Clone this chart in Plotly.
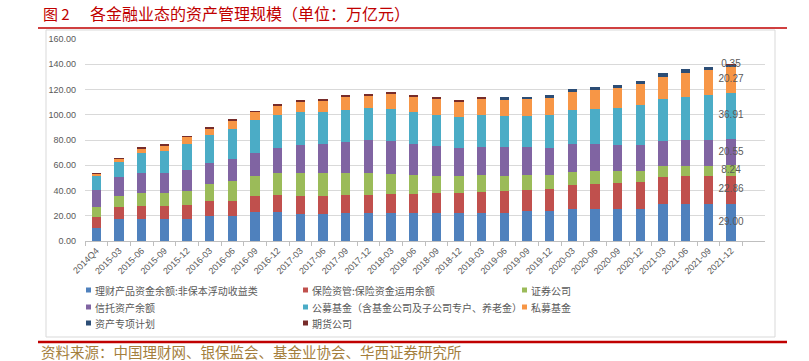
import plotly.graph_objects as go

categories = ["2014Q4", "2015-03", "2015-06", "2015-09", "2015-12", "2016-03", "2016-06", "2016-09",
              "2016-12", "2017-03", "2017-06", "2017-09", "2017-12", "2018-03", "2018-06", "2018-09",
              "2018-12", "2019-03", "2019-06", "2019-09", "2019-12", "2020-03", "2020-06", "2020-09",
              "2020-12", "2021-03", "2021-06", "2021-09", "2021-12"]

wmp = [10.0, 17.2, 17.2, 17.2, 17.2, 20.1, 20.1, 23.0, 23.0, 21.4, 21.4, 21.9, 21.9, 21.9, 21.9,
       21.9, 21.9, 22.2, 22.2, 23.5, 23.5, 25.3, 25.3, 25.3, 25.3, 29.0, 29.0, 29.0, 29.00]
insurance = [9.0, 9.5, 10.3, 10.3, 11.1, 11.6, 11.9, 12.9, 13.4, 14.2, 14.5, 14.8, 14.8, 15.3, 15.6,
             15.9, 16.4, 16.9, 17.1, 17.2, 17.4, 19.3, 19.8, 20.6, 21.4, 22.0, 22.5, 22.2, 22.86]
securities = [7.7, 9.2, 10.3, 10.8, 11.6, 13.4, 15.3, 15.6, 17.2, 18.5, 18.2, 17.4, 16.9, 15.9, 14.8,
              13.9, 13.2, 13.2, 12.4, 11.3, 11.1, 10.3, 10.6, 9.5, 8.7, 8.4, 7.9, 8.4, 8.24]
trust = [14.0, 14.5, 15.9, 15.8, 16.3, 16.7, 17.4, 18.2, 20.1, 21.9, 23.0, 24.3, 26.1, 25.8, 24.8,
         23.3, 22.4, 22.2, 22.5, 22.2, 21.7, 21.7, 21.1, 20.6, 20.4, 20.1, 20.6, 20.6, 20.55]
public_funds = [11.0, 11.9, 16.3, 17.2, 20.9, 22.2, 24.3, 25.9, 26.1, 25.9, 25.3, 25.6, 25.6, 25.7, 25.1,
                25.1, 24.6, 25.0, 24.5, 24.8, 25.8, 27.4, 27.8, 29.6, 31.7, 33.0, 34.3, 35.4, 36.91]
private_funds = [1.6, 2.9, 3.4, 4.5, 5.5, 5.2, 6.3, 6.6, 7.7, 8.7, 9.0, 10.3, 10.3, 12.4, 12.4,
                 12.9, 12.1, 13.5, 13.0, 13.5, 14.0, 14.0, 15.0, 15.9, 16.6, 17.7, 19.0, 19.5, 20.27]
special_plans = [None] * 18 + [2.1, 1.6, 1.9, 2.4, 2.1, 2.1, 2.9, 2.6, 2.7, 2.7, 2.0]
futures = [0.3, 0.3, 0.6, 0.4, 0.5, 0.6, 0.7, 0.7, 0.6, 0.5, 0.5, 0.6, 0.7, 0.3, 0.5,
           0.4, 0.5, 0.3] + [None] * 10 + [0.35]

series_names = ["理财产品资金余额:非保本浮动收益类", "保险资管:保险资金运用余额", "证券公司",
                "信托资产余额", "公募基金（含基金公司及子公司专户、养老金）", "私募基金",
                "资产专项计划", "期货公司"]
series_values = [wmp, insurance, securities, trust, public_funds, private_funds, special_plans, futures]
series_colors = ["#4F81BD", "#C0504D", "#9BBB59", "#8064A2", "#4BACC6", "#F79646", "#2C4D75", "#772C2A"]
label_last = [True, True, True, True, True, True, False, True]

title_prefix = "图 2"
title_text = "各金融业态的资产管理规模（单位：万亿元）"
source_text = "资料来源：中国理财网、银保监会、基金业协会、华西证券研究所"

W, H = 809, 361
L, R, T, B = 85, 765, 39, 241
PW, PH = R - L, B - T


def px(x):
    return (x - L) / PW


def py(y):
    return (B - y) / PH


fig = go.Figure()
for name, vals, col in zip(series_names, series_values, series_colors):
    fig.add_trace(go.Bar(x=categories, y=vals, name=name, marker_color=col,
                         marker_line_width=0, showlegend=False))

# data labels for last bar
cum = 0.0
lab_y, lab_t = [], []
for vals, show in zip(series_values, label_last):
    v = vals[-1] or 0
    if show:
        lab_y.append(cum + v / 2)
        lab_t.append(f"{v:.2f}")
    cum += v
fig.add_trace(go.Scatter(x=[categories[-1]] * len(lab_y), y=lab_y, text=lab_t, mode="text",
                         textfont=dict(size=10, color="#595959", family="Liberation Sans"),
                         showlegend=False, hoverinfo="skip", cliponaxis=False))

shapes = []
annotations = []
# frame
shapes.append(dict(type="rect", xref="paper", yref="paper", x0=px(46), x1=px(775), y0=py(30), y1=py(337),
                   line=dict(color="#D9D9D9", width=1), layer="below"))
# red rules
shapes.append(dict(type="line", xref="paper", yref="paper", x0=px(38), x1=px(787), y0=py(28), y1=py(28),
                   line=dict(color="#C00000", width=1.5)))
shapes.append(dict(type="line", xref="paper", yref="paper", x0=px(38), x1=px(787), y0=py(342), y1=py(342),
                   line=dict(color="#C00000", width=2.5)))

# legend (manual, Excel-like)
cols_x = [86, 303, 522]
rows_y = [290, 307, 323]
for k, (name, col) in enumerate(zip(series_names, series_colors)):
    r, c = divmod(k, 3)
    x0, y0 = cols_x[c], rows_y[r]
    shapes.append(dict(type="rect", xref="paper", yref="paper", x0=px(x0), x1=px(x0 + 5),
                       y0=py(y0 - 2.5), y1=py(y0 + 2.5), fillcolor=col, line=dict(width=0)))
    annotations.append(dict(xref="paper", yref="paper", x=px(x0 + 7), y=py(y0), text=name,
                            showarrow=False, xanchor="left", yanchor="middle",
                            font=dict(size=10, color="#595959", family="Noto Sans CJK SC")))

annotations.append(dict(xref="paper", yref="paper", x=px(41), y=py(13), text=title_prefix, showarrow=False,
                        xanchor="left", yanchor="middle",
                        font=dict(size=15, color="#C00000", family="Noto Sans CJK SC")))
annotations.append(dict(xref="paper", yref="paper", x=px(88), y=py(13), text=title_text, showarrow=False,
                        xanchor="left", yanchor="middle",
                        font=dict(size=16, color="#C00000", family="Noto Sans CJK SC")))
annotations.append(dict(xref="paper", yref="paper", x=px(39), y=py(351), text=source_text, showarrow=False,
                        xanchor="left", yanchor="middle",
                        font=dict(size=14.5, color="#A47E3C", family="Noto Sans CJK SC")))

fig.update_layout(
    width=W, height=H,
    margin=dict(l=L, r=W - R, t=T, b=H - B, pad=0),
    barmode="stack", bargap=0.59,
    paper_bgcolor="white", plot_bgcolor="white",
    font=dict(family="Liberation Sans", size=9, color="#595959"),
    shapes=shapes, annotations=annotations,
    showlegend=False,
)
fig.update_xaxes(type="category", tickangle=-45, tickson="boundaries", ticks="outside", ticklen=4,
                 tickcolor="#BFBFBF", showline=True, linecolor="#BFBFBF", linewidth=1,
                 showgrid=False, tickfont=dict(size=9, color="#595959"))
fig.update_yaxes(range=[0, 160], dtick=20, tickformat=".2f", showgrid=True, gridcolor="#D9D9D9",
                 gridwidth=1, zeroline=False, showline=False, ticks="", ticklabelstandoff=8,
                 tickfont=dict(size=9, color="#595959"))

fig.write_html("out.html", config={"displayModeBar": False},
               post_script="document.body.style.margin='0px';document.body.style.overflow='hidden';")
